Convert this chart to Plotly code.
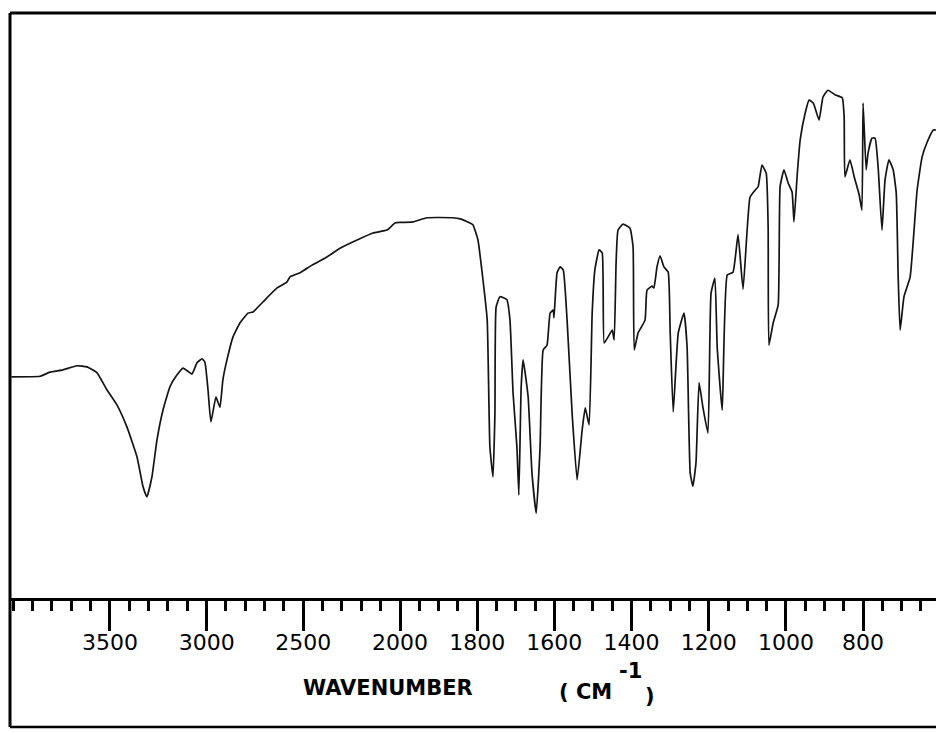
import plotly.graph_objects as go

# Infrared spectrum: wavenumber (cm-1) and relative transmittance (%)
wavenumber = [
    4010, 3862, 3811, 3743, 3671, 3619, 3567, 3516, 3464, 3412, 3360, 3329, 3309,
    3283, 3257, 3226, 3190, 3154, 3122, 3076, 3050, 3024, 3009, 2993, 2978, 2952,
    2942, 2931, 2916, 2895, 2864, 2828, 2786, 2760, 2709, 2636, 2585, 2569, 2517,
    2455, 2378, 2310, 2222, 2140, 2067, 2026, 2000,
    1966, 1930, 1863, 1844, 1819, 1811, 1798, 1785, 1774, 1767, 1759, 1754, 1751,
    1741, 1723, 1715, 1707, 1697, 1692, 1686, 1681, 1668, 1658, 1647, 1637, 1629,
    1619, 1611, 1603, 1601, 1593, 1585, 1577, 1567, 1554, 1541, 1528, 1520, 1510,
    1502, 1495, 1484, 1476, 1471, 1461, 1450, 1445, 1440, 1435, 1422, 1404, 1396,
    1393, 1383, 1365, 1360, 1347, 1342, 1334, 1326, 1316, 1305, 1300, 1292, 1279,
    1264, 1256, 1248, 1241, 1233, 1225, 1215, 1202, 1194, 1184, 1178, 1165, 1152,
    1137, 1124, 1111, 1093, 1080, 1072, 1062, 1051, 1046, 1044, 1033, 1020, 1015,
    1005, 994, 984, 979, 971, 963, 950, 940, 929, 914, 904, 891, 872, 854, 849,
    847, 834, 823, 810, 803, 800, 792, 787, 777, 769, 761, 751, 743, 733, 722,
    714, 709, 704, 694, 678, 660, 647, 634, 618, 611,
]
transmittance = [
    37.8, 37.9, 38.6, 39.0, 39.7, 39.5, 38.5, 35.6, 33.0, 29.2, 24.1, 19.0, 17.3,
    20.7, 27.0, 32.1, 36.1, 38.1, 39.3, 38.3, 40.2, 40.9, 40.3, 35.6, 30.1, 34.4,
    33.5, 32.6, 37.3, 40.7, 44.6, 47.0, 48.7, 48.9, 50.6, 53.0, 54.0, 54.9, 55.6,
    56.9, 58.3, 59.8, 61.2, 62.4, 62.9, 64.1, 64.2,
    64.3, 65.0, 65.0, 64.8, 64.1, 63.8, 61.2, 54.4, 47.5, 25.8, 20.7, 31.6, 49.7,
    51.5, 51.0, 47.5, 35.0, 25.8, 17.6, 36.1, 40.7, 34.4, 21.4, 14.5, 25.8, 42.4,
    43.2, 48.7, 49.2, 47.9, 55.6, 56.6, 56.1, 47.5, 31.6, 20.2, 28.7, 32.5, 29.6,
    48.7, 56.1, 59.5, 59.0, 43.6, 44.6, 45.8, 44.1, 57.3, 62.9, 63.9, 63.2, 60.0,
    42.4, 45.3, 47.5, 52.6, 53.3, 53.0, 56.6, 58.5, 56.6, 55.7, 45.8, 31.8, 45.3,
    48.7, 42.9, 21.4, 19.1, 23.1, 36.8, 32.6, 28.2, 52.1, 54.7, 42.9, 32.1, 55.2,
    55.7, 62.1, 52.8, 68.5, 69.7, 70.3, 74.0, 72.6, 63.4, 43.2, 47.0, 50.1, 70.3,
    73.2, 70.9, 69.4, 64.3, 72.0, 78.3, 82.9, 85.1, 84.6, 81.7, 85.6, 86.8, 86.0, 85.5, 82.2,
    72.0, 74.9, 72.0, 68.9, 66.3, 84.6, 73.2, 76.1, 78.6, 78.6, 73.7, 62.9, 71.5, 74.9, 73.2,
    69.2, 54.9, 45.8, 51.5, 54.9, 69.7, 75.4, 77.9, 80.0, 80.0,
]

# Tick labels on the two halves of the scale (the scale doubles below 2000 cm-1)
high_ticks = [3500, 3000, 2500, 2000]
low_ticks = [1800, 1600, 1400, 1200, 1000, 800]

SPLIT = 2000
high = [(w, t) for w, t in zip(wavenumber, transmittance) if w >= SPLIT]
low = [(w, t) for w, t in zip(wavenumber, transmittance) if w <= SPLIT]

line_style = dict(color="#141414", width=1.7, shape="spline", smoothing=0.4)

fig = go.Figure()
fig.add_trace(go.Scatter(x=[p[0] for p in high], y=[p[1] for p in high],
                         mode="lines", line=line_style, xaxis="x", yaxis="y",
                         hoverinfo="skip"))
fig.add_trace(go.Scatter(x=[p[0] for p in low], y=[p[1] for p in low],
                         mode="lines", line=line_style, xaxis="x2", yaxis="y",
                         hoverinfo="skip"))

W, H = 936, 733
ML, MR, MT, MB = 10, 0, 13, 135
plot_w = W - ML - MR
plot_h = H - MT - MB
split_frac = (400 - ML) / plot_w

tick_font = dict(family="DejaVu Sans", size=22, color="black")

common_axis = dict(
    showline=True, linewidth=3, linecolor="black",
    showgrid=False, zeroline=False, automargin=False,
    ticks="outside", ticklen=30, tickwidth=2.5, tickcolor="black",
    tickfont=tick_font, tickmode="array", fixedrange=True,
    ticklabelstandoff=-7,
)

fig.update_layout(
    width=W, height=H,
    margin=dict(l=ML, r=MR, t=MT, b=MB, pad=0, autoexpand=False),
    paper_bgcolor="white", plot_bgcolor="white",
    showlegend=False,
    xaxis=dict(
        common_axis, domain=[0, split_frac], range=[4017, 2000], anchor="y",
        tickvals=high_ticks, ticktext=[str(v) for v in high_ticks],
        minor=dict(tickmode="linear", tick0=0, dtick=100, ticks="outside",
                   ticklen=10, tickwidth=2.5, tickcolor="black", showgrid=False),
    ),
    xaxis2=dict(
        common_axis, domain=[split_frac, 1], range=[2000, 611], anchor="y",
        tickvals=low_ticks, ticktext=[str(v) for v in low_ticks],
        minor=dict(tickmode="linear", tick0=0, dtick=50, ticks="outside",
                   ticklen=10, tickwidth=2.5, tickcolor="black", showgrid=False),
    ),
    yaxis=dict(range=[0, 100], visible=False, fixedrange=True, automargin=False),
)


def px_x(px):
    return (px - ML) / plot_w


def px_y(py):
    return (H - MB - py) / plot_h


# Outer frame of the chart sheet
frame_bottom = px_y(727)
for x0, y0, x1, y1, w in [
    (0, frame_bottom, 0, 1, 3),
    (0, 1, 1.01, 1, 3),
    (0, frame_bottom, 1.01, frame_bottom, 2.5),
]:
    fig.add_shape(type="line", xref="paper", yref="paper",
                  x0=x0, y0=y0, x1=x1, y1=y1,
                  line=dict(color="black", width=w))

title_font = dict(family="DejaVu Sans", size=21, color="black", weight="bold")
fig.add_annotation(text="WAVENUMBER", xref="paper", yref="paper",
                   x=px_x(388), y=px_y(688), showarrow=False,
                   xanchor="center", yanchor="middle", font=title_font)

# Unit label: "( CM" with a full-size raised "-1" exponent and closing bracket
for text, px, py in [("( CM", 557, 692), ("-1", 617, 671), (")", 643, 696)]:
    fig.add_annotation(text=text, xref="paper", yref="paper",
                       x=px_x(px), y=px_y(py), showarrow=False,
                       xanchor="left", yanchor="middle", font=title_font)

fig.write_html("out.html")
